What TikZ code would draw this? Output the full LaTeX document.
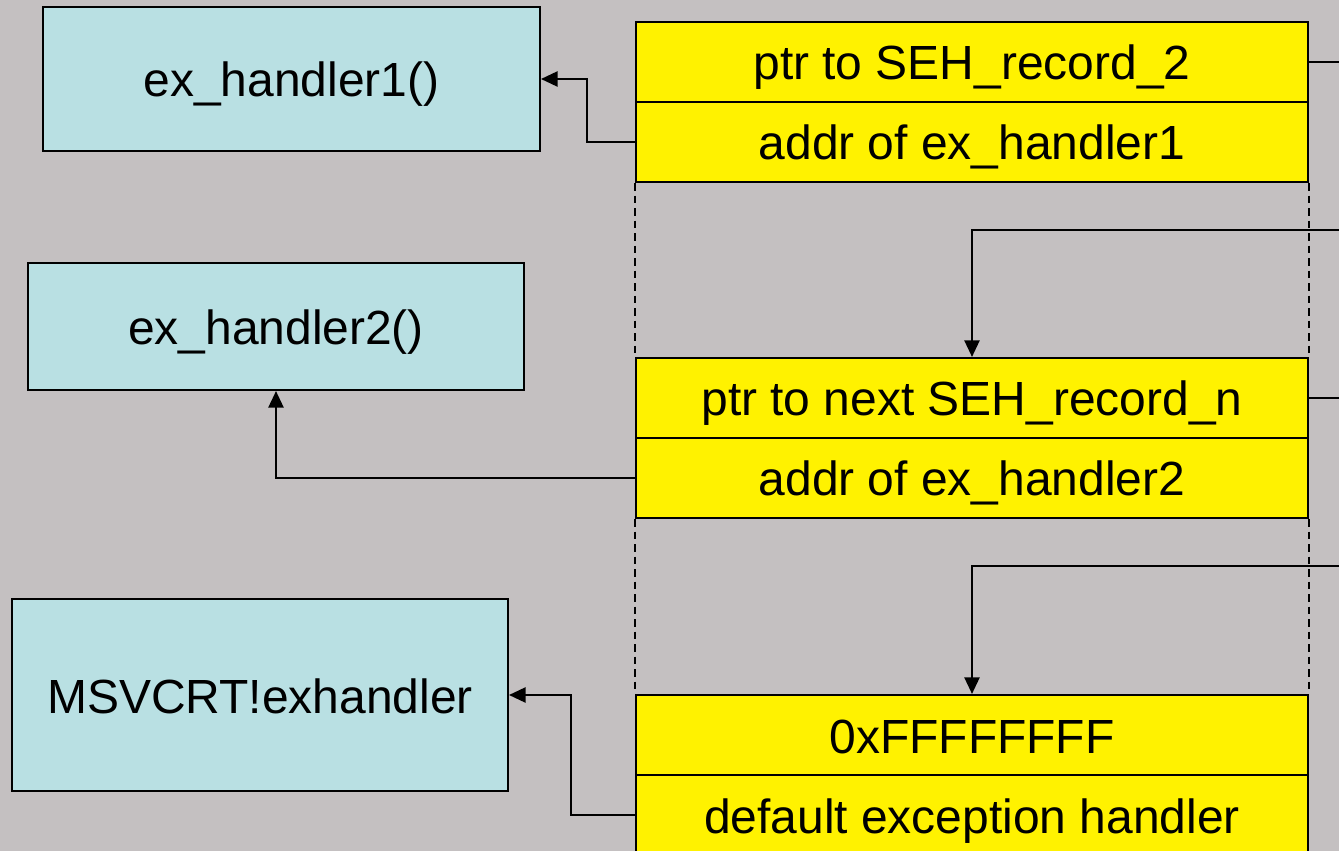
\documentclass[tikz,border=0pt]{standalone}
\usepackage{fontspec}
\setmainfont{Liberation Sans}
\usetikzlibrary{positioning,calc,arrows.meta}
\definecolor{slidegray}{RGB}{196,192,193}
\definecolor{handlerblue}{RGB}{185,224,227}
\tikzset{
    box/.style={draw, line width=1.2pt, inner sep=0pt, text height=0.72cm, text depth=0cm},
    handler/.style={box, fill=handlerblue},
    field/.style={box, fill=yellow, minimum width=13.44cm, minimum height=1.6cm},
    link/.style={line width=1.2pt, -{Triangle[length=0.33cm, width=0.3cm]}},
    chain/.style={line width=1.4pt, dash pattern=on 0.15cm off 0.1cm}
}

\begin{document}
\begin{tikzpicture}[x=0.02cm, y=-0.02cm, font=\fontsize{27.3}{32}\selectfont]
    \useasboundingbox (0,0) rectangle (1339,851);
    \clip (0,0) rectangle (1339,851);
    \fill[slidegray] (0,0) rectangle (1339,851);

    % handler functions
    \node[handler, minimum width=9.94cm, minimum height=2.88cm] (h1) at (291.5,79) {ex\_handler1()};
    \node[handler, minimum width=9.92cm, minimum height=2.54cm] (h2) at (276,326.5) {ex\_handler2()};
    \node[handler, minimum width=9.92cm, minimum height=3.84cm] (h3) at (260,695) {MSVCRT!exhandler};

    % SEH records on the stack
    \node[field] (r1a) at (972,62) {ptr to SEH\_record\_2};
    \node[field] (r1b) at (972,142) {addr of ex\_handler1};
    \node[field] (r2a) at (972,398) {ptr to next SEH\_record\_n};
    \node[field] (r2b) at (972,478) {addr of ex\_handler2};
    \node[field] (r3a) at (972,735) {0xFFFFFFFF};
    \node[field] (r3b) at (972,815) {default exception handler};

    % stack between the records
    \draw[chain] (r1b.south west) -- (r2a.north west);
    \draw[chain] (r1b.south east) -- (r2a.north east);
    \draw[chain] (r2b.south west) -- (r3a.north west);
    \draw[chain] (r2b.south east) -- (r3a.north east);

    % next pointers
    \coordinate (out1) at (1345,62);
    \coordinate (in2) at (1345,230);
    \coordinate (out2) at (1345,398);
    \coordinate (in3) at (1345,566);
    \draw[line width=1.2pt] (r1a.east) -- (out1);
    \draw[link] (in2) -| (r2a.north);
    \draw[line width=1.2pt] (r2a.east) -- (out2);
    \draw[link] (in3) -| (r3a.north);

    % handler addresses
    \draw[link] (r1b.west) -- ++(-48,0) |- (h1.east);
    \draw[link] (r2b.west) -| (h2.south);
    \draw[link] (r3b.west) -- ++(-64,0) |- (h3.east);
\end{tikzpicture}
\end{document}
